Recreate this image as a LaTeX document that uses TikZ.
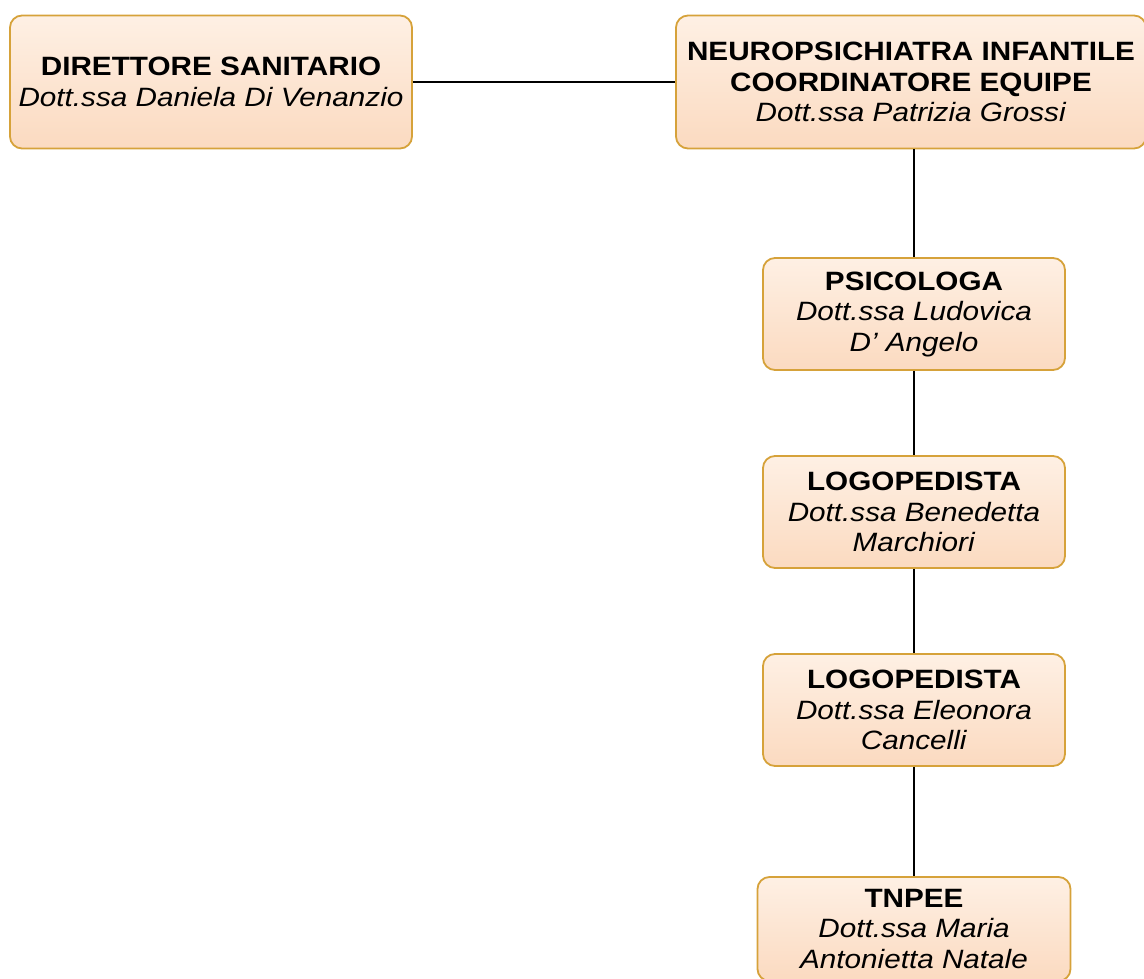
\documentclass[tikz,border=0pt]{standalone}
\usepackage{fontspec}
\setmainfont{Liberation Sans}[FakeStretch=1.12, Ligatures=ResetAll]
\definecolor{bordo}{HTML}{D6A23A}
\definecolor{pesca}{HTML}{FBDAC0}
\definecolor{pescachiaro}{HTML}{FEF0E4}
\tikzstyle{ruolo}=[rectangle, rounded corners=12pt, draw=bordo, line width=1.8pt,
  top color=pescachiaro, bottom color=pesca, align=center,
  font=\fontsize{26.5}{30.5}\selectfont, inner sep=0pt]
\newcommand{\nome}[1]{\textit{#1}}

\begin{document}
\begin{tikzpicture}[x=1pt, y=-1pt, line width=2.4pt]
                    \clip (0,0) rectangle (1144,979);
                    \useasboundingbox (0,0) rectangle (1144,979);
                    \node[ruolo, minimum width=402pt, minimum height=133pt] (dir) at (211, 82) {\textbf{DIRETTORE SANITARIO}\\\nome{Dott.ssa Daniela Di Venanzio}};
                    \node[ruolo, minimum width=470pt, minimum height=133pt] (npi) at (911, 82) {\textbf{NEUROPSICHIATRA INFANTILE}\\\textbf{COORDINATORE EQUIPE}\\\nome{Dott.ssa Patrizia Grossi}};
                    \node[ruolo, minimum width=302pt, minimum height=112pt] (psi) at (914, 314) {\textbf{PSICOLOGA}\\\nome{Dott.ssa Ludovica}\\\nome{D' Angelo}};
                    \node[ruolo, minimum width=302pt, minimum height=112pt] (logo1) at (914, 512) {\textbf{LOGOPEDISTA}\\\nome{Dott.ssa Benedetta}\\\nome{Marchiori}};
                    \node[ruolo, minimum width=302pt, minimum height=112pt] (logo2) at (914, 710) {\textbf{LOGOPEDISTA}\\\nome{Dott.ssa Eleonora}\\\nome{Cancelli}};
                    \node[ruolo, minimum width=313pt, minimum height=104pt] (tnpee) at (914, 929) {\textbf{TNPEE}\\\nome{Dott.ssa Maria}\\\nome{Antonietta Natale}};
                    \draw (dir) -- (npi);
                    \draw (npi.south -| psi.north) -- (psi);
                    \draw (psi) -- (logo1);
                    \draw (logo1) -- (logo2);
                    \draw (logo2) -- (tnpee);
                \end{tikzpicture}
\end{document}
